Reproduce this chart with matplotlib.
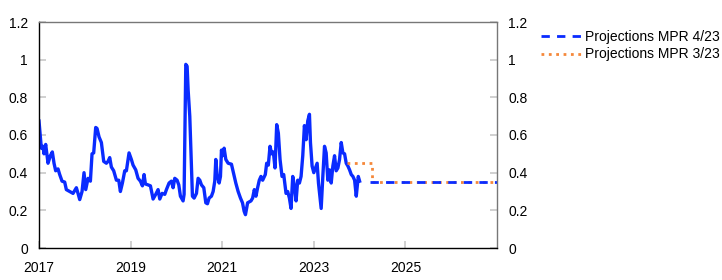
import matplotlib
matplotlib.use("Agg")
import matplotlib.pyplot as plt

plt.rcParams['font.family'] = ['Liberation Sans', 'DejaVu Sans']

# historical series (decimal years)
hist_year = [
    2017.000, 2017.051, 2017.087, 2017.109, 2017.146, 2017.197, 2017.248, 2017.291,
    2017.328, 2017.364, 2017.415, 2017.452, 2017.503, 2017.561, 2017.597, 2017.670,
    2017.743, 2017.816, 2017.852, 2017.889, 2017.940, 2017.983, 2018.020, 2018.071,
    2018.122, 2018.158, 2018.194, 2018.238, 2018.267, 2018.311, 2018.362, 2018.413,
    2018.471, 2018.508, 2018.544, 2018.580, 2018.631, 2018.690, 2018.741, 2018.777,
    2018.821, 2018.872, 2018.908, 2018.966, 2019.017, 2019.054, 2019.112, 2019.163,
    2019.214, 2019.258, 2019.294, 2019.323, 2019.382, 2019.433, 2019.491, 2019.549,
    2019.600, 2019.637, 2019.688, 2019.746, 2019.782, 2019.840, 2019.891, 2019.928,
    2019.964, 2020.015, 2020.052, 2020.088, 2020.146, 2020.168, 2020.205, 2020.234,
    2020.256, 2020.292, 2020.328, 2020.350, 2020.387, 2020.438, 2020.474, 2020.511,
    2020.547, 2020.598, 2020.642, 2020.678, 2020.714, 2020.765, 2020.802, 2020.838,
    2020.860, 2020.889, 2020.933, 2020.962, 2020.984, 2021.006, 2021.042, 2021.079,
    2021.130, 2021.202, 2021.253, 2021.297, 2021.348, 2021.399, 2021.443, 2021.479,
    2021.508, 2021.555, 2021.628, 2021.664, 2021.701, 2021.737, 2021.773, 2021.810,
    2021.846, 2021.883, 2021.941, 2021.971, 2022.007, 2022.044, 2022.080, 2022.117,
    2022.153, 2022.190, 2022.226, 2022.263, 2022.306, 2022.343, 2022.394, 2022.430,
    2022.467, 2022.503, 2022.540, 2022.576, 2022.613, 2022.649, 2022.686, 2022.722,
    2022.759, 2022.795, 2022.832, 2022.868, 2022.905, 2022.927, 2022.963, 2023.000,
    2023.036, 2023.073, 2023.102, 2023.139, 2023.161, 2023.197, 2023.234, 2023.270,
    2023.306, 2023.343, 2023.380, 2023.416, 2023.453, 2023.489, 2023.526, 2023.562,
    2023.599, 2023.635, 2023.672, 2023.708, 2023.745, 2023.781, 2023.818, 2023.854,
    2023.891, 2023.927, 2023.971, 2024.000,
]
hist_value = [
    0.674, 0.53, 0.54, 0.50, 0.55, 0.45, 0.49, 0.51,
    0.45, 0.41, 0.42, 0.39, 0.355, 0.35, 0.31, 0.30,
    0.29, 0.32, 0.29, 0.257, 0.30, 0.40, 0.31, 0.37,
    0.355, 0.50, 0.505, 0.64, 0.635, 0.59, 0.56, 0.46,
    0.45, 0.46, 0.48, 0.43, 0.41, 0.36, 0.36, 0.30,
    0.345, 0.41, 0.41, 0.505, 0.47, 0.44, 0.415, 0.37,
    0.355, 0.33, 0.39, 0.34, 0.335, 0.33, 0.26, 0.285,
    0.31, 0.26, 0.29, 0.285, 0.31, 0.345, 0.355, 0.32,
    0.37, 0.36, 0.335, 0.275, 0.25, 0.285, 0.975, 0.965,
    0.84, 0.70, 0.43, 0.275, 0.265, 0.29, 0.37, 0.36,
    0.335, 0.32, 0.24, 0.235, 0.265, 0.275, 0.30, 0.355,
    0.47, 0.39, 0.345, 0.38, 0.52, 0.49, 0.53, 0.47,
    0.45, 0.445, 0.39, 0.345, 0.30, 0.265, 0.24, 0.195,
    0.177, 0.24, 0.25, 0.265, 0.31, 0.275, 0.32, 0.36,
    0.38, 0.36, 0.39, 0.45, 0.44, 0.54, 0.50, 0.51,
    0.425, 0.655, 0.61, 0.47, 0.38, 0.39, 0.29, 0.30,
    0.265, 0.21, 0.38, 0.33, 0.25, 0.36, 0.345, 0.38,
    0.49, 0.65, 0.575, 0.675, 0.71, 0.56, 0.435, 0.40,
    0.425, 0.45, 0.345, 0.257, 0.21, 0.38, 0.54, 0.505,
    0.36, 0.415, 0.345, 0.435, 0.49, 0.41, 0.425, 0.47,
    0.56, 0.505, 0.50, 0.45, 0.435, 0.415, 0.39, 0.38,
    0.36, 0.275, 0.38, 0.355,
]

# projections
proj_423_year = [2024.22, 2027.0]
proj_423_value = [0.35, 0.35]
proj_323_year = [2023.72, 2024.26, 2027.0]
proj_323_value = [0.45, 0.35, 0.35]

x_ticks = [2017, 2019, 2021, 2023, 2025]
y_ticks = [0, 0.2, 0.4, 0.6, 0.8, 1.0, 1.2]
y_labels = ['0', '0.2', '0.4', '0.6', '0.8', '1', '1.2']

BLUE = '#0A2BFF'
ORANGE = '#F5883A'

fig = plt.figure(figsize=(7.22, 2.80), dpi=100)
ax = fig.add_axes([39 / 722, 32 / 280, 458 / 722, 226 / 280])

ax.plot(hist_year, hist_value, color=BLUE, lw=2.4, solid_joinstyle='round')
ax.plot(proj_323_year, proj_323_value, color=ORANGE, lw=2.0, linestyle=':',
        drawstyle='steps-post', label='Projections MPR 3/23')
ax.plot(proj_423_year, proj_423_value, color=BLUE, lw=2.0, dashes=(3, 2.6),
        label='Projections MPR 4/23')

ax.set_xlim(2017, 2027)
ax.set_ylim(0, 1.2)
ax.set_xticks(x_ticks)
ax.set_xticklabels([str(y) for y in x_ticks])
ax.set_yticks(y_ticks)
ax.set_yticklabels(y_labels)

ax.tick_params(axis='both', direction='in', length=5, width=1.2, color='#c8c8c8',
               labelsize=10, pad=8)
ax.tick_params(axis='x', pad=9)
ax.tick_params(axis='y', right=True, labelright=True)

for side in ['left', 'bottom']:
    ax.spines[side].set_color('black')
    ax.spines[side].set_linewidth(1.0)
for side in ['top', 'right']:
    ax.spines[side].set_color('#777777')
    ax.spines[side].set_linewidth(1.0)

handles, labels = ax.get_legend_handles_labels()
fig.legend(handles[::-1], labels[::-1], loc='upper left',
           bbox_to_anchor=(541 / 722, 1 - 30 / 280), frameon=False, fontsize=10,
           handlelength=3.0, handletextpad=0.2, labelspacing=0.25,
           borderpad=0, borderaxespad=0)

fig.savefig('out.png', dpi=100)
